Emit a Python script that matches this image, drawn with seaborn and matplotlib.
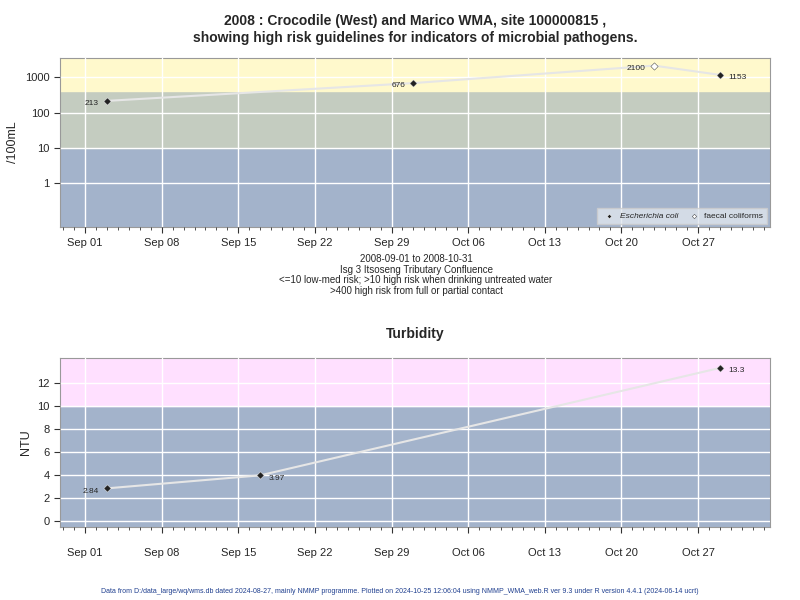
import matplotlib
matplotlib.use("Agg")
import matplotlib.pyplot as plt
import matplotlib.dates as mdates
import seaborn as sns
import pandas as pd
import numpy as np

# microbial data
ecoli_dates = ["2008-09-03", "2008-10-01", "2008-10-29"]
ecoli_vals = [213, 676, 1153]
fc_dates = ["2008-10-23"]
fc_vals = [2100]

# turbidity data
turb_dates = ["2008-09-03", "2008-09-17", "2008-10-29"]
turb_vals = [2.84, 3.97, 13.3]

sns.set_style("white")
plt.rcParams["font.family"] = ["Liberation Sans", "DejaVu Sans"]

blue = "#A3B3CB"
green = "#C4CCC0"
yellow = "#FFF9CC"
pink = "#FFE0FF"
xmin, xmax = pd.Timestamp("2008-08-29 17:00"), pd.Timestamp("2008-11-02 14:00")

fig = plt.figure(figsize=(8, 6), dpi=100)
ax1 = fig.add_axes([0.075, 0.622, 0.8875, 0.281])
ax2 = fig.add_axes([0.075, 0.122, 0.8875, 0.282])

micro = pd.DataFrame({
    "date": pd.to_datetime(ecoli_dates + fc_dates),
    "val": ecoli_vals + fc_vals,
    "kind": ["E"] * len(ecoli_vals) + ["F"] * len(fc_vals),
}).sort_values("date")
turb = pd.DataFrame({"date": pd.to_datetime(turb_dates), "val": turb_vals})


def style_axis(ax, pad):
    ax.set_xlim(xmin, xmax)
    ax.xaxis.set_major_locator(mdates.WeekdayLocator(byweekday=mdates.MO))
    ax.xaxis.set_major_formatter(mdates.DateFormatter("%b %d"))
    ax.xaxis.set_minor_locator(mdates.DayLocator())
    ax.grid(True, which="major", color="white", lw=1)
    ax.set_axisbelow(False)
    ax.tick_params(axis="x", which="both", bottom=True, direction="out", color="#333333")
    ax.tick_params(axis="x", which="major", length=4, pad=pad, labelsize=8)
    ax.tick_params(axis="x", which="minor", length=2)
    ax.tick_params(axis="y", left=True, direction="out", length=4, labelsize=8, color="#333333")
    for s in ax.spines.values():
        s.set_color("#999999")
    ax.set_xlabel("")


# top panel
ax1.set_yscale("log")
ax1.set_ylim(0.06, 3400)
ax1.axhspan(0.06, 10, color=blue, zorder=0)
ax1.axhspan(10, 400, color=green, zorder=0)
ax1.axhspan(400, 3400, color=yellow, zorder=0)
sns.lineplot(data=micro, x="date", y="val", ax=ax1, color="#E6E6E6", lw=1.5, zorder=3)
e = micro[micro.kind == "E"]
f = micro[micro.kind == "F"]
sns.scatterplot(data=e, x="date", y="val", ax=ax1, marker="D", color="#222222", s=14, zorder=4,
                label="Escherichia coli")
sns.scatterplot(data=f, x="date", y="val", ax=ax1, marker="D", facecolor="white", edgecolor="#222222",
                s=14, zorder=4, label="faecal coliforms")
for d, v in zip(e.date, e.val):
    if d == e.date.max():
        ax1.annotate(str(v), (d, v), xytext=(6, -3), textcoords="offset points", fontsize=6)
    else:
        ax1.annotate(str(v), (d, v), xytext=(-6, -3), textcoords="offset points", fontsize=6, ha="right")
for d, v in zip(f.date, f.val):
    ax1.annotate(str(v), (d, v), xytext=(-6, -3), textcoords="offset points", fontsize=6, ha="right")
ax1.set_yticks([1, 10, 100, 1000])
ax1.set_yticklabels(["1", "10", "100", "1000"])
ax1.yaxis.set_minor_locator(matplotlib.ticker.NullLocator())
ax1.set_ylabel("/100mL", fontsize=9)
style_axis(ax1, 4)
leg = ax1.legend(loc="lower right", ncol=2, fontsize=6, frameon=True, facecolor="#E0E6EE",
                 edgecolor="#CCCCCC", handletextpad=0.3, columnspacing=0.8, borderpad=0.5,
                 fancybox=False, markerscale=0.6, borderaxespad=0.3)
leg.get_texts()[0].set_style("italic")
ax1.set_title("2008 : Crocodile (West) and Marico WMA, site 100000815 ,\n"
              "showing high risk guidelines for indicators of microbial pathogens.",
              fontsize=10, fontweight="bold", pad=12)
fig.text(0.52, 0.577, "2008-09-01 to 2008-10-31\nIsg 3 Itsoseng Tributary Confluence\n"
         "<=10 low-med risk; >10 high risk when drinking untreated water\n"
         ">400 high risk from full or partial contact",
         ha="center", va="top", fontsize=7, linespacing=1.1)

# bottom panel
ax2.set_ylim(-0.5, 14.2)
ax2.axhspan(-0.5, 10, color=blue, zorder=0)
ax2.axhspan(10, 14.2, color=pink, zorder=0)
sns.lineplot(data=turb, x="date", y="val", ax=ax2, color="#E6E6E6", lw=1.5, zorder=3)
sns.scatterplot(data=turb, x="date", y="val", ax=ax2, marker="D", color="#222222", s=14, zorder=4)
for i, (d, v) in enumerate(zip(turb.date, turb.val)):
    if i == 0:
        ax2.annotate(f"{v:g}", (d, v), xytext=(-6, -3), textcoords="offset points", fontsize=6, ha="right")
    else:
        ax2.annotate(f"{v:g}", (d, v), xytext=(6, -3), textcoords="offset points", fontsize=6)
ax2.set_yticks(np.arange(0, 13, 2))
ax2.set_ylabel("NTU", fontsize=9)
style_axis(ax2, 11)
ax2.set_title("Turbidity", fontsize=10, fontweight="bold", pad=14)

fig.text(0.5, 0.012, "Data from D:/data_large/wq/wms.db dated 2024-08-27, mainly NMMP programme. "
         "Plotted on 2024-10-25 12:06:04 using NMMP_WMA_web.R ver 9.3 under R version 4.4.1 (2024-06-14 ucrt)",
         ha="center", fontsize=5, color="#1F3F8F")

fig.savefig("out.png", dpi=100)
